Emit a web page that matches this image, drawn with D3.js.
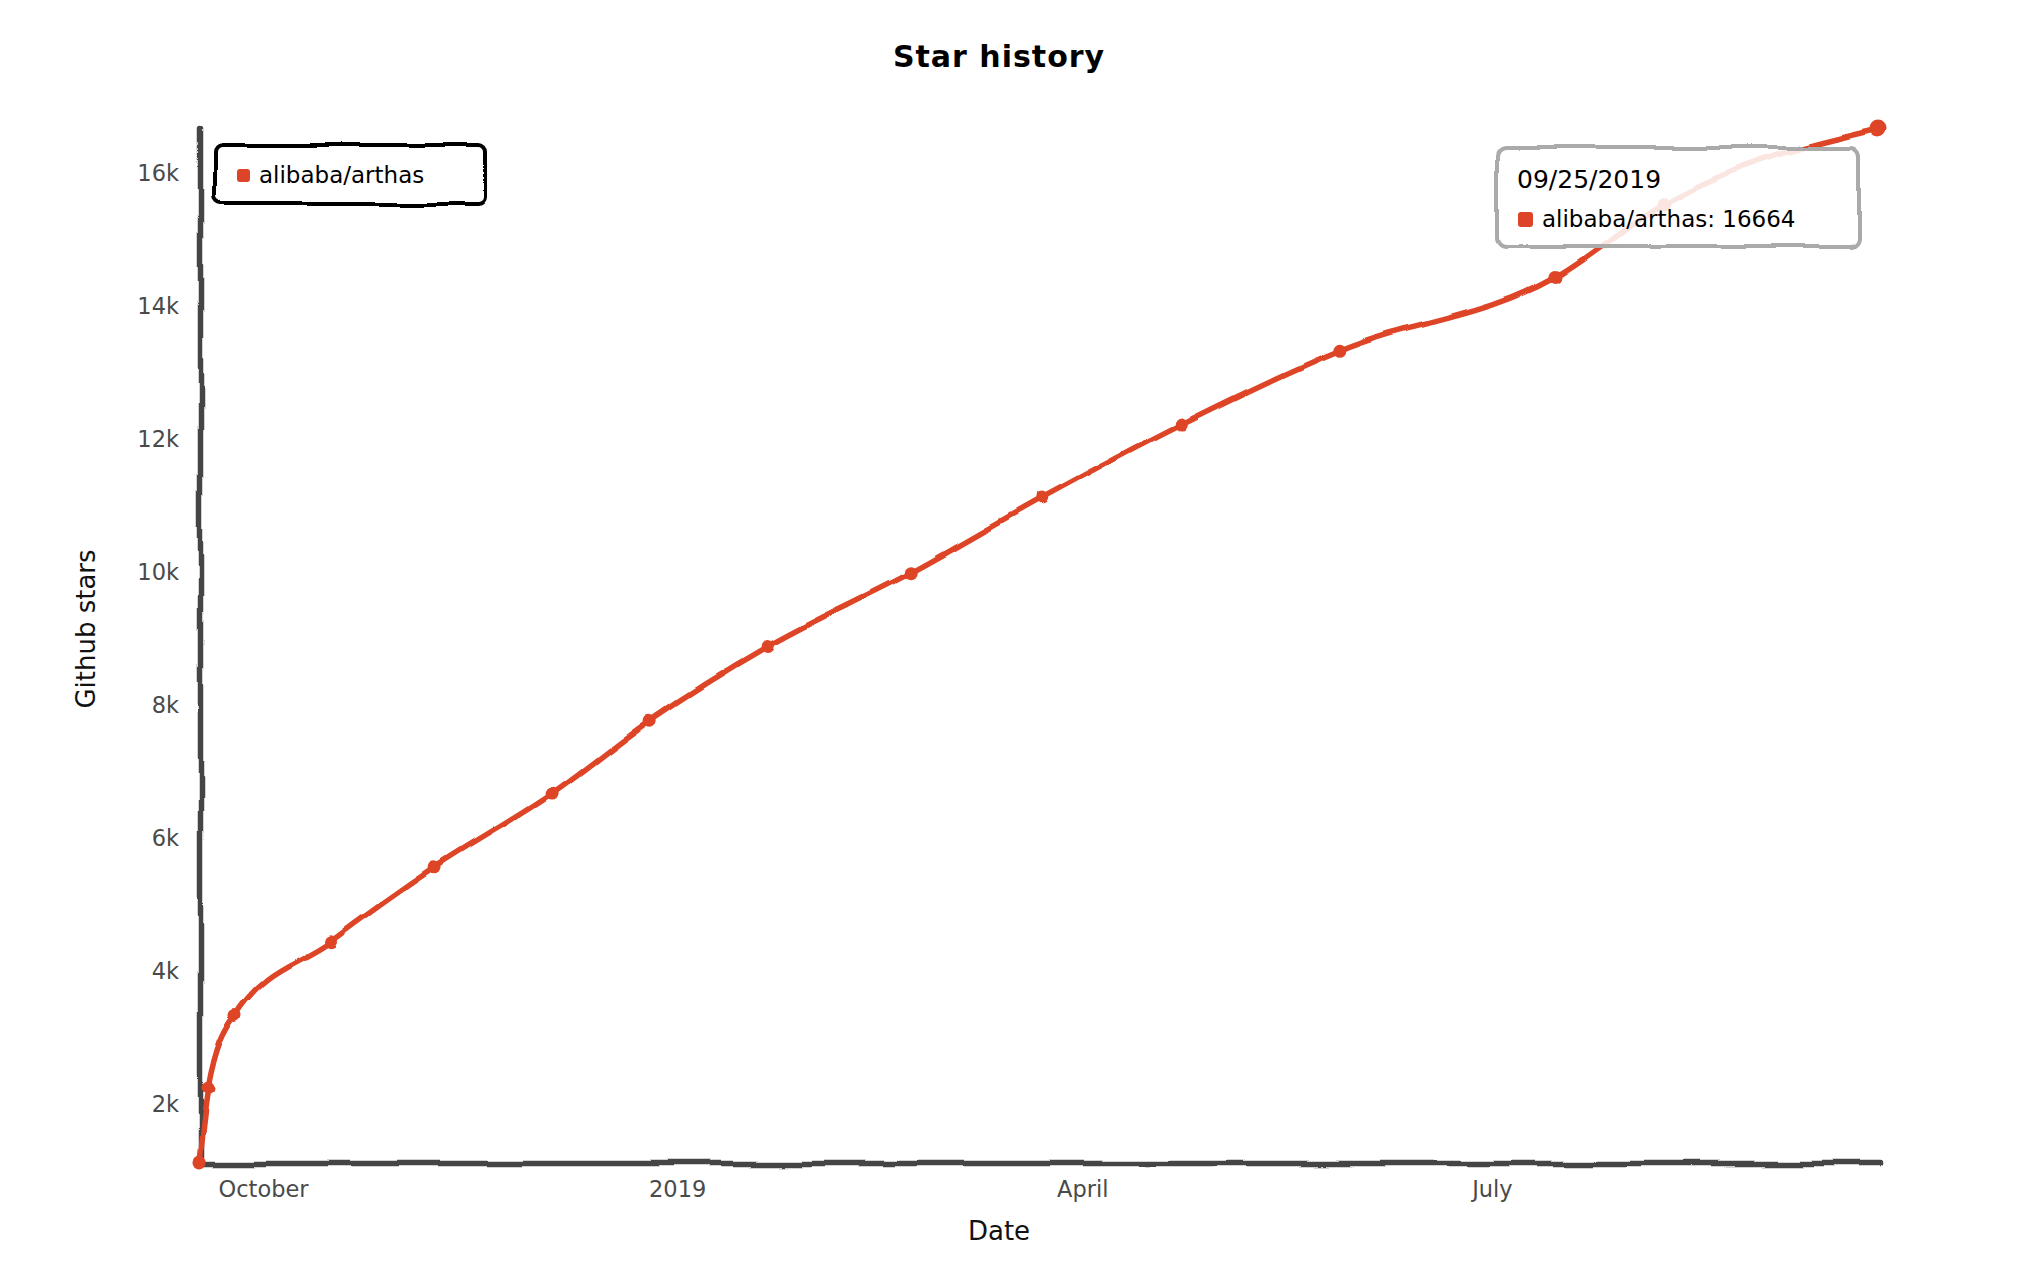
<!DOCTYPE html>
<html>
<head>
<meta charset="utf-8">
<script src="https://cdn.jsdelivr.net/npm/d3@7"></script>
<style>
  html, body { margin: 0; padding: 0; background: #fff; }
  svg { display: block; }
  text { font-family: "DejaVu Sans", "Noto Sans", sans-serif; }
</style>
</head>
<body>
<svg id="chart" width="2042" height="1284"></svg>
<script>
// ---- data ----
const seriesName = "alibaba/arthas";
const dates = ["2018-09-17","2018-09-19","2018-09-25","2018-10-16","2018-11-08","2018-12-04",
               "2018-12-26","2019-01-21","2019-02-22","2019-03-23","2019-04-23","2019-05-28",
               "2019-07-15","2019-08-08","2019-09-25"];
const stars = [1110, 2220, 3330, 4440, 5550, 6660, 7770, 8880, 9990, 11100, 12210, 13320, 14430, 15540, 16664];
const xTickDates = ["2018-10-01","2019-01-01","2019-04-01","2019-07-01"];
const xTickLabels = ["October","2019","April","July"];
const yTickValues = [2000, 4000, 6000, 8000, 10000, 12000, 14000, 16000];
const yTickLabels = ["2k","4k","6k","8k","10k","12k","14k","16k"];
const tooltipDate = "09/25/2019";
const lineColor = "#dd4528";

// ---- layout ----
const W = 2042, H = 1284;
const plot = { left: 200, right: 1879, top: 129, bottom: 1163 };
const parse = d3.timeParse("%Y-%m-%d");
const data = dates.map((d, i) => ({ date: parse(d), value: stars[i] }));

const svg = d3.select("#chart");
const defs = svg.append("defs");
const f = defs.append("filter").attr("id", "xkcdify")
  .attr("filterUnits", "userSpaceOnUse")
  .attr("x", -2200).attr("y", -1400).attr("width", 4400).attr("height", 2800);
f.append("feTurbulence").attr("type", "fractalNoise").attr("baseFrequency", 0.011)
  .attr("numOctaves", 2).attr("seed", 5).attr("result", "noise");
f.append("feDisplacementMap").attr("in", "SourceGraphic").attr("in2", "noise")
  .attr("scale", 9).attr("xChannelSelector", "R").attr("yChannelSelector", "G");

const x = d3.scaleTime()
  .domain(d3.extent(data, d => d.date))
  .range([plot.left, plot.right]);
const y = d3.scaleLinear()
  .domain(d3.extent(data, d => d.value))
  .range([plot.bottom, plot.top]);

// title
svg.append("text").attr("x", 999).attr("y", 56)
  .attr("text-anchor", "middle").attr("dominant-baseline", "central")
  .attr("font-size", 30).attr("font-weight", "bold").attr("letter-spacing", 1)
  .attr("fill", "#000").text("Star history");

// axes
const xTicks = xTickDates.map(parse);
const xAxis = d3.axisBottom(x).tickValues(xTicks)
  .tickFormat((d, i) => xTickLabels[i]).tickSize(0).tickPadding(14);
const yAxis = d3.axisLeft(y).tickValues(yTickValues)
  .tickFormat((d, i) => yTickLabels[i]).tickSize(0).tickPadding(21);

const gx = svg.append("g").attr("transform", `translate(0,${plot.bottom})`).call(xAxis);
const gy = svg.append("g").attr("transform", `translate(${plot.left},0)`).call(yAxis);
[gx, gy].forEach(g => {
  g.select(".domain").attr("stroke", "#444").attr("stroke-width", 5.5)
    .attr("stroke-linecap", "round").attr("filter", "url(#xkcdify)");
  g.selectAll(".tick text").attr("font-size", 22.5).attr("fill", "#4a4a4a")
    .attr("font-family", "DejaVu Sans, sans-serif");
});
gx.selectAll(".tick text").attr("dy", "0.9em");

// axis labels
svg.append("text").attr("x", 999).attr("y", 1231)
  .attr("text-anchor", "middle").attr("dominant-baseline", "central")
  .attr("font-size", 26).attr("fill", "#111").text("Date");
svg.append("text").attr("transform", "translate(86,629) rotate(-90)")
  .attr("text-anchor", "middle").attr("dominant-baseline", "central")
  .attr("font-size", 26).attr("fill", "#111").text("Github stars");

// line
const line = d3.line().x(d => x(d.date)).y(d => y(d.value)).curve(d3.curveMonotoneX);
const gLine = svg.append("g").attr("filter", "url(#xkcdify)");
gLine.append("path").datum(data).attr("d", line)
  .attr("fill", "none").attr("stroke", lineColor).attr("stroke-width", 5.5)
  .attr("stroke-linecap", "round").attr("stroke-linejoin", "round");
gLine.selectAll("circle").data(data).join("circle")
  .attr("cx", d => x(d.date)).attr("cy", d => y(d.value))
  .attr("r", (d, i) => i === data.length - 1 ? 8.5 : 6.5)
  .attr("fill", lineColor);

// legend
const lg = svg.append("g");
lg.append("rect").attr("x", 215).attr("y", 146).attr("width", 271).attr("height", 58)
  .attr("rx", 7).attr("fill", "#fff").attr("stroke", "#000").attr("stroke-width", 4)
  .attr("filter", "url(#xkcdify)");
lg.append("rect").attr("x", 237).attr("y", 169).attr("width", 13).attr("height", 13)
  .attr("rx", 3).attr("fill", lineColor);
lg.append("text").attr("x", 259).attr("y", 175).attr("dominant-baseline", "central")
  .attr("font-size", 23).attr("fill", "#000").text(seriesName);

// tooltip (hover on the last point)
const last = data[data.length - 1];
const tg = svg.append("g");
tg.append("rect").attr("x", 1498).attr("y", 148).attr("width", 362).attr("height", 99)
  .attr("rx", 9).attr("fill", "#fff").attr("fill-opacity", 0.86)
  .attr("stroke", "#aaa").attr("stroke-width", 4).attr("filter", "url(#xkcdify)");
tg.append("text").attr("x", 1517).attr("y", 179).attr("dominant-baseline", "central")
  .attr("font-size", 25).attr("fill", "#000").text(tooltipDate);
tg.append("rect").attr("x", 1518).attr("y", 212).attr("width", 15).attr("height", 15)
  .attr("rx", 3).attr("fill", lineColor);
tg.append("text").attr("x", 1542).attr("y", 219).attr("dominant-baseline", "central")
  .attr("font-size", 23).attr("fill", "#000").text(`${seriesName}: ${last.value}`);
</script>
</body>
</html>
